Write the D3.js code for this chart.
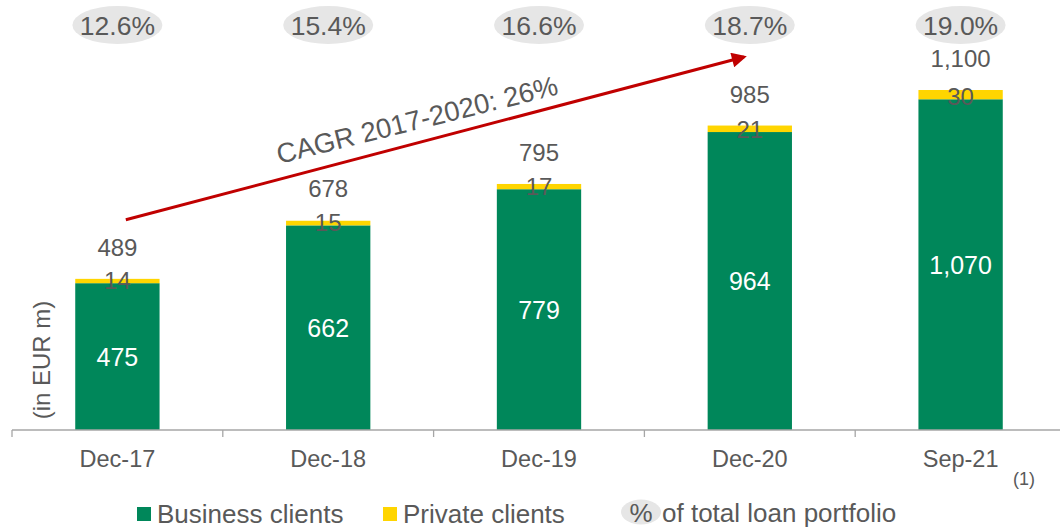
<!DOCTYPE html>
<html>
<head>
<meta charset="utf-8">
<script src="https://cdn.jsdelivr.net/npm/d3@7"></script>
<style>
  body { margin: 0; background: #fff; }
  svg { display: block; font-family: "Liberation Sans", Arial, sans-serif; }
</style>
</head>
<body>
<div id="chart"></div>
<script>
// data
var categories = ["Dec-17", "Dec-18", "Dec-19", "Dec-20", "Sep-21"];
var business = [475, 662, 779, 964, 1070];
var privateClients = [14, 15, 17, 21, 30];
var totals = [489, 678, 795, 985, 1100];
var shareOfPortfolio = ["12.6%", "15.4%", "16.6%", "18.7%", "19.0%"];
var cagrLabel = "CAGR 2017-2020: 26%";

var svgWidth = 1060, svgHeight = 529;
var green = "#00875A", yellow = "#FFD500", grey = "#595959", red = "#C00000";

var svg = d3.select("#chart").append("svg")
    .attr("width", svgWidth).attr("height", svgHeight);

var rows = categories.map(function(c, i) {
    return {cat: c, business: business[i], priv: privateClients[i], total: totals[i], pct: shareOfPortfolio[i]};
});

// scales
var x = d3.scaleBand()
    .domain(categories)
    .range([12, 1066])
    .paddingInner(0.6).paddingOuter(0.3);

var y = d3.scaleLinear()
    .domain([0, 1100])
    .range([430, 90]);

var stacked = d3.stack().keys(["business", "priv"])(rows);
var colour = d3.scaleOrdinal().domain(["business", "priv"]).range([green, yellow]);

// bars
svg.append("g").selectAll("g")
    .data(stacked).enter().append("g")
    .attr("fill", function(d) { return colour(d.key); })
    .selectAll("rect")
    .data(function(d) { return d; }).enter().append("rect")
    .attr("x", function(d) { return x(d.data.cat); })
    .attr("width", x.bandwidth())
    .attr("y", function(d) { return y(d[1]); })
    .attr("height", function(d) { return y(d[0]) - y(d[1]); });

// x axis
var xAxis = svg.append("g")
    .attr("transform", "translate(0 " + y(0) + ")");
xAxis.append("line")
    .attr("x1", 12).attr("x2", svgWidth)
    .attr("stroke", "#A6A6A6").attr("stroke-width", 1.3);
// category boundary ticks
var boundary = function(d) { return x(d) - x.step() * x.paddingOuter(); };
xAxis.selectAll("line.tick")
    .data(categories).enter().append("line")
    .attr("class", "tick")
    .attr("x1", boundary).attr("x2", boundary)
    .attr("y1", 0).attr("y2", 7)
    .attr("stroke", "#A6A6A6").attr("stroke-width", 1.3);
xAxis.selectAll("text")
    .data(categories).enter().append("text")
    .attr("x", function(d) { return x(d) + x.bandwidth() / 2; })
    .attr("y", 37)
    .attr("text-anchor", "middle")
    .attr("font-size", "23.5px").attr("fill", grey)
    .text(function(d) { return d; });

// value labels
var labels = svg.append("g").attr("text-anchor", "middle");
labels.selectAll("text.biz")
    .data(rows).enter().append("text")
    .attr("x", function(d) { return x(d.cat) + x.bandwidth() / 2; })
    .attr("y", function(d) { return (y(0) + y(d.business)) / 2 + 9; })
    .attr("font-size", "25px")
    .attr("fill", "#fff")
    .text(function(d) { return d3.format(",")(d.business); });
labels.selectAll("text.priv")
    .data(rows).enter().append("text")
    .attr("x", function(d) { return x(d.cat) + x.bandwidth() / 2; })
    .attr("y", function(d) { return y(d.business) + 6; })
    .attr("font-size", "24px")
    .attr("fill", grey)
    .text(function(d) { return d.priv; });
labels.selectAll("text.total")
    .data(rows).enter().append("text")
    .attr("x", function(d) { return x(d.cat) + x.bandwidth() / 2; })
    .attr("y", function(d) { return y(d.total) - 23; })
    .attr("font-size", "24px")
    .attr("fill", grey)
    .text(function(d) { return d3.format(",")(d.total); });

// % of total loan portfolio bubbles
var pct = svg.append("g").selectAll("g")
    .data(rows).enter().append("g")
    .attr("transform", function(d) { return "translate(" + (x(d.cat) + x.bandwidth() / 2) + " 25)"; });
pct.append("ellipse").attr("rx", 45).attr("ry", 19).attr("fill", "#E6E6E6");
pct.append("text")
    .attr("text-anchor", "middle").attr("y", 9.5)
    .attr("font-size", "26.5px").attr("fill", grey)
    .text(function(d) { return d.pct; });

// CAGR arrow (endpoints in data units)
var arrowFrom = {cat: "Dec-17", frac: 0.6, value: 680};
var arrowTo = {cat: "Dec-20", frac: 0.43, value: 1207};
var ax1 = x(arrowFrom.cat) + x.bandwidth() * arrowFrom.frac, ay1 = y(arrowFrom.value);
var ax2 = x(arrowTo.cat) + x.bandwidth() * arrowTo.frac, ay2 = y(arrowTo.value);

svg.append("defs").append("marker")
    .attr("id", "arrowhead")
    .attr("viewBox", "0 0 10 10")
    .attr("refX", 8).attr("refY", 5)
    .attr("markerWidth", 6.5).attr("markerHeight", 5)
    .attr("markerUnits", "strokeWidth")
    .attr("orient", "auto")
    .append("path").attr("d", "M0,0 L10,5 L0,10 z").attr("fill", red);

svg.append("line")
    .attr("x1", ax1).attr("y1", ay1).attr("x2", ax2).attr("y2", ay2)
    .attr("stroke", red).attr("stroke-width", 3)
    .attr("marker-end", "url(#arrowhead)");

var angle = Math.atan2(ay2 - ay1, ax2 - ax1) * 180 / Math.PI;
var midX = ax1 + (ax2 - ax1) * 0.48, midY = ay1 + (ay2 - ay1) * 0.48;
svg.append("text")
    .attr("transform", "translate(" + midX + " " + midY + ") rotate(" + (angle + 0.8) + ") translate(0 -13)")
    .attr("text-anchor", "middle")
    .attr("font-size", "27.5px").attr("fill", grey)
    .text(cagrLabel);

// y axis label
svg.append("text")
    .attr("transform", "translate(50 360) rotate(-90)")
    .attr("text-anchor", "middle")
    .attr("font-size", "24px").attr("fill", grey)
    .text("(in EUR m)");

// footnote
svg.append("text")
    .attr("x", 1013).attr("y", 485)
    .attr("font-size", "18px").attr("fill", grey)
    .text("(1)");

// legend
var legend = svg.append("g").attr("font-size", "26px").attr("fill", grey);
var legendItems = [
    {label: "Business clients", colour: green, x: 137},
    {label: "Private clients", colour: yellow, x: 383}
];
var lg = legend.selectAll("g").data(legendItems).enter().append("g")
    .attr("transform", function(d) { return "translate(" + d.x + " 507)"; });
lg.append("rect").attr("width", 14).attr("height", 14).attr("fill", function(d) { return d.colour; });
lg.append("text").attr("x", 20).attr("y", 16).attr("fill", grey).text(function(d) { return d.label; });

var lp = legend.append("g").attr("transform", "translate(641 512)");
lp.append("ellipse").attr("rx", 20).attr("ry", 12.5).attr("fill", "#E6E6E6");
lp.append("text").attr("text-anchor", "middle").attr("y", 9.5).attr("fill", grey).text("%");
lp.append("text").attr("x", 21).attr("y", 9.5).attr("fill", grey).text("of total loan portfolio");
</script>
</body>
</html>
